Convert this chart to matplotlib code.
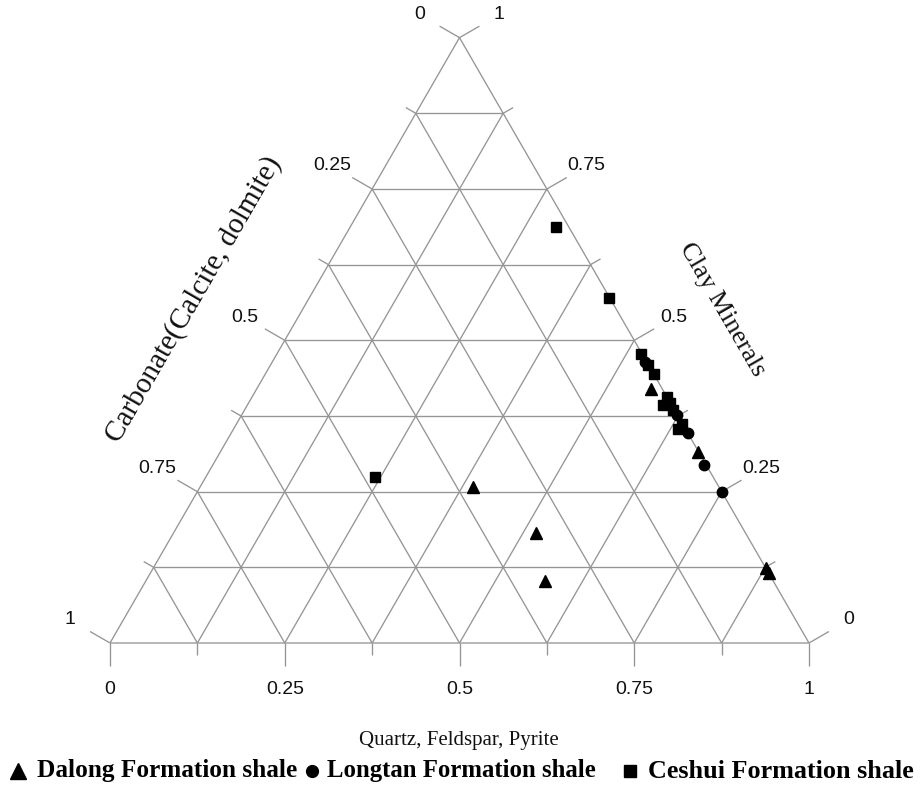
import numpy as np
import matplotlib
matplotlib.use("Agg")
import matplotlib.pyplot as plt

# Mineral composition of shale samples (mass fractions)
# quartz = quartz + feldspar + pyrite, clay = clay minerals, carb = carbonate
dalong_quartz = [0.564, 0.683, 0.390, 0.518, 0.571, 0.879, 0.889]
dalong_clay = [0.420, 0.316, 0.258, 0.182, 0.102, 0.124, 0.116]
dalong_carb = [0.016, 0.001, 0.352, 0.300, 0.327, 0.000, 0.000]

longtan_quartz = [0.533, 0.622, 0.654, 0.703, 0.751]
longtan_clay = [0.464, 0.377, 0.347, 0.294, 0.249]
longtan_carb = [0.003, 0.001, 0.000, 0.003, 0.000]

ceshui_quartz = [0.294, 0.429, 0.521, 0.540, 0.556, 0.594, 0.594, 0.603,
                 0.613, 0.637, 0.636, 0.242]
ceshui_clay = [0.687, 0.570, 0.477, 0.459, 0.444, 0.408, 0.393, 0.396,
               0.385, 0.362, 0.353, 0.274]
ceshui_carb = [0.019, 0.001, 0.002, 0.001, 0.000, 0.000, 0.013, 0.001,
               0.002, 0.001, 0.011, 0.484]

tick_values = [0, 0.25, 0.5, 0.75, 1]
tick_labels = ["0", "0.25", "0.5", "0.75", "1"]

series_names = ["Dalong Formation shale", "Longtan Formation shale",
                "Ceshui Formation shale"]

S3 = np.sqrt(3) / 2


def to_xy(q, c, k):
    q, c, k = (np.asarray(v, float) for v in (q, c, k))
    s = q + c + k
    q, c = q / s, c / s
    return q + c / 2, c * S3


W, H = 921, 789
fig = plt.figure(figsize=(W / 100, H / 100), dpi=100)
ax = fig.add_axes([0, 0, 1, 1])
# pixel layout: base from x=110 to 809 at y=643
scale = 699.0
ax.set_xlim(-110 / scale, (W - 110) / scale)
ax.set_ylim(-(H - 643) / scale, 643 / scale)
ax.axis("off")

grid_kw = dict(color="#959595", lw=0.95, solid_capstyle="butt", zorder=1)

# triangle outline
ox, oy = to_xy([0, 1, 0, 0], [0, 0, 1, 0], [1, 0, 0, 1])
ax.plot(ox, oy, **grid_kw)

# grid at 1/8 steps in all three directions
for i in range(1, 8):
    t = i / 8
    # constant clay
    x, y = to_xy([0, 1 - t], [t, t], [1 - t, 0])
    ax.plot(x, y, **grid_kw)
    # constant quartz
    x, y = to_xy([t, t], [0, 1 - t], [1 - t, 0])
    ax.plot(x, y, **grid_kw)
    # constant carbonate
    x, y = to_xy([1 - t, 0], [0, 1 - t], [t, t])
    ax.plot(x, y, **grid_kw)

major_len = 23 / scale
minor_len = 11.5 / scale
lab_off = 46 / scale
tick_font = dict(family=["Liberation Sans", "DejaVu Sans"], fontsize=14,
                 ha="center", va="center", color="#111111")

d_bottom = np.array([0.0, -1.0])
d_left = np.array([-S3, 0.5])
d_right = np.array([S3, 0.5])

for i in range(9):
    t = i / 8
    L = major_len if i % 2 == 0 else minor_len
    # bottom axis: quartz
    bx, by = to_xy([t], [0], [1 - t])
    # left axis: carbonate
    lx, ly = to_xy([0], [1 - t], [t])
    # right axis: clay
    rx, ry = to_xy([1 - t], [t], [0])
    for (px, py), d in (((bx[0], by[0]), d_bottom), ((lx[0], ly[0]), d_left),
                        ((rx[0], ry[0]), d_right)):
        ax.plot([px, px + d[0] * L], [py, py + d[1] * L], **grid_kw)

for v, lab in zip(tick_values, tick_labels):
    bx, by = to_xy([v], [0], [1 - v])
    ax.text(bx[0], by[0] - lab_off, lab, **tick_font)
    lx, ly = to_xy([0], [1 - v], [v])
    ax.text(lx[0] + d_left[0] * lab_off, ly[0] + d_left[1] * lab_off, lab,
            **tick_font)
    rx, ry = to_xy([1 - v], [v], [0])
    ax.text(rx[0] + d_right[0] * lab_off, ry[0] + d_right[1] * lab_off, lab,
            **tick_font)

serif = ["Liberation Serif", "DejaVu Serif"]
ax.text((459 - 110) / scale, (643 - 740) / scale, "Quartz, Feldspar, Pyrite",
        family=serif, fontsize=15, ha="center", va="center", color="#111111")
ax.text((194 - 110) / scale, (643 - 299) / scale, "Carbonate(Calcite, dolmite)",
        family=serif, fontsize=21, ha="center", va="center", rotation=60,
        rotation_mode="anchor", color="#111111")
ax.text((722 - 110) / scale, (643 - 310) / scale, "Clay Minerals",
        family=serif, fontsize=19, ha="center", va="center", rotation=-60,
        rotation_mode="anchor", color="#111111")

# sample points
mk = dict(color="black", linestyle="none", zorder=3)
x, y = to_xy(dalong_quartz, dalong_clay, dalong_carb)
ax.plot(x, y, marker="^", markersize=8.5, **mk)
x, y = to_xy(longtan_quartz, longtan_clay, longtan_carb)
ax.plot(x, y, marker="o", markersize=7.5, **mk)
x, y = to_xy(ceshui_quartz, ceshui_clay, ceshui_carb)
ax.plot(x, y, marker="s", markersize=6.8, **mk)

# key row beneath the diagram
key_y = (643 - 771) / scale
key_items = [("^", 12, 18, 37, 18.2), ("o", 8.5, 312, 327, 17.8),
             ("s", 8.5, 630, 648, 18.8)]
for (m, ms, mx, tx, fs), name in zip(key_items, series_names):
    ax.plot([(mx - 110) / scale], [key_y], marker=m, markersize=ms,
            color="black", linestyle="none", clip_on=False)
    ax.text((tx - 110) / scale, key_y, name, family=serif, fontsize=fs,
            fontweight="bold", ha="left", va="center", color="black")

fig.savefig("out.png", dpi=100, facecolor="white")
